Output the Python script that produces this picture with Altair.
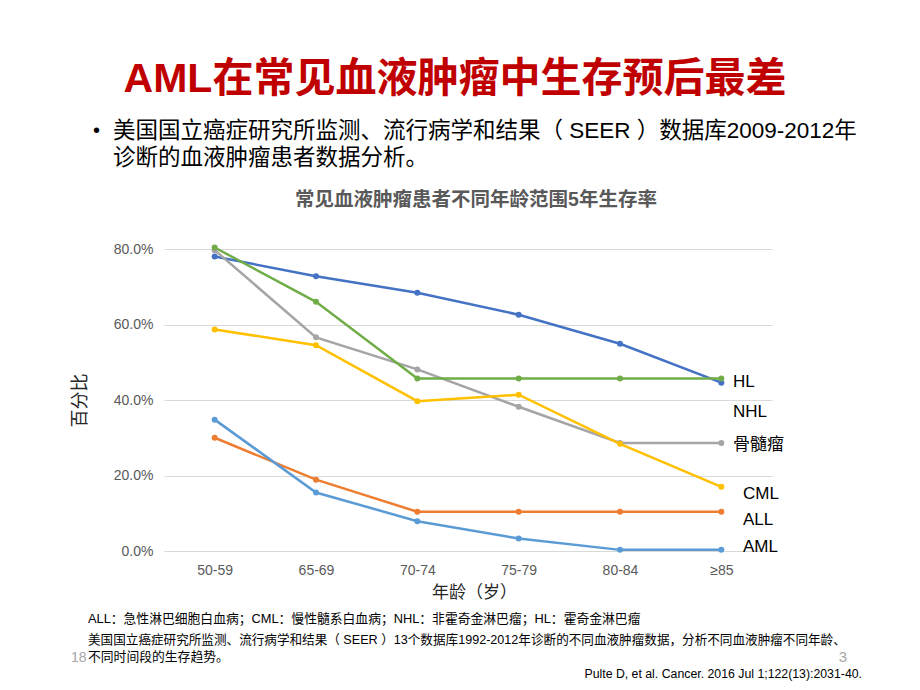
import altair as alt
import pandas as pd

ages = ["50-59", "65-69", "70-74", "75-79", "80-84", "≥85"]
series_names = ["HL", "ALL", "骨髓瘤", "CML", "AML", "NHL"]
series_colors = ["#4472C4", "#ED7D31", "#A5A5A5", "#FFC000", "#5B9BD5", "#70AD47"]
hl = [0.780, 0.728, 0.684, 0.626, 0.549, 0.446]
all_ = [0.300, 0.189, 0.104, 0.104, 0.104, 0.104]
myeloma = [0.797, 0.566, 0.481, 0.382, 0.286, 0.286]
cml = [0.587, 0.545, 0.397, 0.414, 0.284, 0.170]
aml = [0.348, 0.155, 0.079, 0.033, 0.003, 0.003]
nhl = [0.804, 0.660, 0.457, 0.457, 0.457, 0.457]
values = [hl, all_, myeloma, cml, aml, nhl]

label_texts = ["HL", "NHL", "骨髓瘤", "CML", "ALL", "AML"]

title_text = "AML在常见血液肿瘤中生存预后最差"
bullet_line1 = "美国国立癌症研究所监测、流行病学和结果（ SEER ）数据库2009-2012年"
bullet_line2 = "诊断的血液肿瘤患者数据分析。"
chart_title = "常见血液肿瘤患者不同年龄范围5年生存率"
foot1 = "ALL：急性淋巴细胞白血病；CML：慢性髓系白血病；NHL：非霍奇金淋巴瘤；HL：霍奇金淋巴瘤"
foot2 = "美国国立癌症研究所监测、流行病学和结果（ SEER ）13个数据库1992-2012年诊断的不同血液肿瘤数据，分析不同血液肿瘤不同年龄、"
foot3 = "不同时间段的生存趋势。"
ref_text = "Pulte D, et al. Cancer. 2016 Jul 1;122(13):2031-40."

FONT = "Liberation Sans, Arial, Noto Sans CJK SC"

rows = []
for name, vals in zip(series_names, values):
    for a, v in zip(ages, vals):
        rows.append({"age": a, "series": name, "value": v})
df = pd.DataFrame(rows)

W, H = 608, 302

base = alt.Chart(df).encode(
    x=alt.X("age:N", sort=ages, scale=alt.Scale(domain=ages),
            axis=alt.Axis(title="年龄（岁）", labelAngle=0, labelFontSize=14,
                          labelColor="#595959", labelPadding=12, ticks=False,
                          domainColor="#D9D9D9", titleFontSize=17,
                          titleFontWeight="normal", titleColor="#262626",
                          titlePadding=7, titleX=310, labelFont=FONT, titleFont=FONT)),
    y=alt.Y("value:Q", scale=alt.Scale(domain=[0, 0.8], nice=False, clamp=False),
            axis=alt.Axis(title="百分比", format=".1%", values=[0, 0.2, 0.4, 0.6, 0.8],
                          labelFontSize=14, labelColor="#595959", labelPadding=11,
                          ticks=False, domain=False, gridColor="#D9D9D9",
                          titleFontSize=18, titleFontWeight="normal",
                          titleColor="#262626", titlePadding=24,
                          labelFont=FONT, titleFont=FONT)),
    color=alt.Color("series:N", scale=alt.Scale(domain=series_names, range=series_colors),
                    legend=None),
    detail="series:N",
)

lines = base.mark_line(strokeWidth=2.5, clip=False)
points = base.mark_circle(size=36, opacity=1, clip=False)


def txt(t, x, y, size, color="#000000", weight="normal", align="left", baseline="middle"):
    return alt.Chart(pd.DataFrame({"t": [t]})).mark_text(
        align=align, baseline=baseline, fontSize=size, color=color,
        fontWeight=weight, font=FONT,
    ).encode(text="t:N", x=alt.value(x), y=alt.value(y))


ox, oy = 164, 249.3  # page coordinates of plot origin

def P(px, py):
    return px - ox, py - oy

layers = [lines, points]
t = []
t.append(txt(title_text, *P(455, 80), 41, color="#C00000", weight="bold", align="center"))
t.append(txt("•", *P(93, 131), 20))
t.append(txt(bullet_line1, *P(113, 131), 22.5))
t.append(txt(bullet_line2, *P(113, 158), 22.5))
t.append(txt(chart_title, *P(476, 200), 19.5, color="#595959", weight="bold", align="center"))

label_pos = [(733, 382), (733, 412), (733, 445), (743, 494), (743, 520), (743, 547)]
for lt, (lx, ly) in zip(label_texts, label_pos):
    t.append(txt(lt, *P(lx, ly), 17))

t.append(txt(foot1, *P(88, 619), 12.8))
t.append(txt(foot2, *P(88, 640), 12.6))
t.append(txt("18", *P(86.5, 658), 14, color="#A6A6A6", align="right"))
t.append(txt(foot3, *P(88, 657), 12.8))
t.append(txt("3", *P(843, 657), 15, color="#A6A6A6", align="center"))
t.append(txt(ref_text, *P(862, 674), 12.3, align="right"))

chart = alt.layer(*layers, *t).properties(
    width=W, height=H,
    autosize=alt.AutoSizeParams(type="none"),
    padding={"left": 156, "top": 241, "right": 904 - 156 - W, "bottom": 674 - 241 - H},
    background="white",
).configure_view(stroke=None)

chart.save("out.html", embed_options={"renderer": "svg", "actions": False})
